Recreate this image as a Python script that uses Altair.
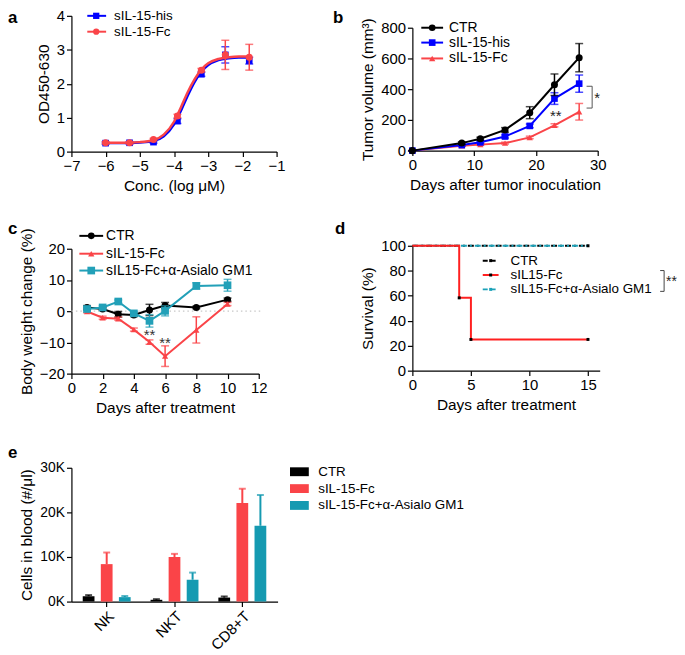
import altair as alt
import pandas as pd

FONT = "Liberation Sans"
RED = "#fa4448"
BLUE = "#0000ff"
TEAL_C = "#22a0b8"
TEAL_D = "#1ba1b8"
TEAL_E = "#159ab1"
RED_D = "#ff2020"

# ---------------- panel a ----------------
a_series = ["sIL-15-his", "sIL-15-Fc"]
a_conc = [-6.0, -5.3, -4.6, -3.9, -3.2, -2.5, -1.8]
a_his = [0.25, 0.26, 0.28, 0.90, 2.28, 2.85, 2.68]
a_his_err = [0.03, 0.03, 0.03, 0.07, 0.06, 0.24, 0.10]
a_fc = [0.26, 0.26, 0.36, 1.05, 2.40, 2.85, 2.78]
a_fc_err = [0.03, 0.03, 0.03, 0.05, 0.05, 0.43, 0.38]
a_curve_x = [-6.0, -5.5, -5.0, -4.6, -4.3, -4.0, -3.8, -3.6, -3.4, -3.2, -3.0, -2.7, -2.4, -2.1, -1.8]
a_his_curve = [0.25, 0.25, 0.27, 0.31, 0.45, 0.80, 1.20, 1.65, 2.05, 2.35, 2.55, 2.70, 2.75, 2.77, 2.77]
a_fc_curve = [0.26, 0.26, 0.28, 0.34, 0.50, 0.88, 1.30, 1.75, 2.13, 2.42, 2.60, 2.73, 2.78, 2.80, 2.80]

# ---------------- panel b ----------------
b_series = ["CTR", "sIL-15-his", "sIL-15-Fc"]
b_days = [0, 8, 11, 15, 19, 23, 27]
b_ctr = [0, 49, 77, 135, 247, 429, 605]
b_ctr_err = [0, 8, 10, 15, 39, 70, 92]
b_his = [0, 36, 54, 92, 161, 339, 436]
b_his_err = [0, 5, 6, 10, 12, 38, 56]
b_fc = [0, 32, 39, 49, 86, 165, 253]
b_fc_err = [0, 4, 5, 6, 8, 10, 54]
b_bracket_x = [28.2, 29.1]
b_bracket_y = [419, 277]

# ---------------- panel c ----------------
c_series = ["CTR", "sIL-15-Fc", "sIL15-Fc+α-Asialo GM1"]
c_days = [1, 2, 3, 4, 5, 6, 8, 10]
c_ctr = [1.2, 0.7, -1.0, -1.2, 0.4, 1.8, 1.2, 3.7]
c_ctr_err = [0.6, 0.4, 0.9, 0.5, 1.8, 1.0, 0.4, 0.5]
c_fc = [-0.1, -2.1, -2.4, -5.9, -9.9, -14.4, -6.0, 2.3]
c_fc_err = [0.4, 0.5, 0.5, 0.5, 0.7, 3.3, 4.2, 0.5]
c_teal = [0.7, 1.2, 3.1, -0.7, -3.1, 0.1, 8.1, 8.3]
c_teal_err = [0.5, 0.6, 0.5, 0.6, 2.0, 1.6, 1.0, 1.9]
c_star_x = [5, 6]
c_star_y = [-7.8, -10.3]

# ---------------- panel d ----------------
d_series = ["CTR", "sIL15-Fc", "sIL15-Fc+α-Asialo GM1"]
d_ctr_t = [0, 15]
d_ctr_s = [100, 100]
d_fc_t = [0, 4, 5, 15]
d_fc_s = [100, 58.3, 25, 25]
d_teal_t = [0, 15]
d_teal_s = [100, 100]
d_cens_t = [4, 5, 15, 15]
d_cens_s = [58.3, 25, 25, 100]

# ---------------- panel e ----------------
e_cats = ["NK", "NKT", "CD8+T"]
e_groups = ["CTR", "sIL-15-Fc", "sIL-15-Fc+α-Asialo GM1"]
e_ctr = [1200, 400, 900]
e_ctr_err = [250, 150, 250]
e_fc = [8400, 10000, 22100]
e_fc_err = [2600, 700, 3200]
e_teal = [1000, 4900, 17000]
e_teal_err = [250, 1600, 6900]


def sdf(x, y, err):
    return pd.DataFrame({"x": x, "y": y,
                         "lo": [v - e for v, e in zip(y, err)],
                         "hi": [v + e for v, e in zip(y, err)]})


def make_xy(xdom, xvals, xtitle, ydom, yvals, ytitle, yrange=None):
    xs = alt.Scale(domain=xdom, nice=False, zero=False)
    if yrange is not None:
        ys = alt.Scale(domain=ydom, nice=False, zero=False, range=yrange)
    else:
        ys = alt.Scale(domain=ydom, nice=False, zero=False)
    xa = alt.Axis(values=xvals, title=xtitle)
    ya = alt.Axis(values=yvals, title=ytitle)

    def X(f):
        return alt.X(f, type="quantitative", scale=xs, axis=xa)

    def Y(f):
        return alt.Y(f, type="quantitative", scale=ys, axis=ya)
    return X, Y


def series_layers(df, X, Y, color, shape, size, lw=2, interp="linear", cap=8, line_df=None):
    ld = line_df if line_df is not None else df
    out = [
        alt.Chart(ld).mark_line(color=color, strokeWidth=lw, interpolate=interp).encode(x=X("x"), y=Y("y")),
        alt.Chart(df).mark_rule(color=color, strokeWidth=1.5).encode(x=X("x"), y=Y("lo"), y2=alt.Y2("hi")),
        alt.Chart(df).mark_tick(color=color, orient="horizontal", size=cap, thickness=1.5).encode(x=X("x"), y=Y("hi")),
        alt.Chart(df).mark_tick(color=color, orient="horizontal", size=cap, thickness=1.5).encode(x=X("x"), y=Y("lo")),
        alt.Chart(df).mark_point(shape=shape, filled=True, size=size, color=color, opacity=1).encode(x=X("x"), y=Y("y")),
    ]
    return out


def legend_rows(names, colors, shapes, sizes, x0, x1, xm, xt, ys, fs=14, dashes=None, ptcolors=None, lw=2):
    out = []
    for i, name in enumerate(names):
        d = pd.DataFrame({"name": [name]})
        rk = dict(color=colors[i], strokeWidth=lw)
        if dashes is not None and dashes[i] is not None:
            rk["strokeDash"] = dashes[i]
        out.append(alt.Chart(d).mark_rule(**rk).encode(
            x=alt.value(x0), x2=alt.value(x1), y=alt.value(ys[i])))
        pc = ptcolors[i] if ptcolors is not None else colors[i]
        out.append(alt.Chart(d).mark_point(shape=shapes[i], filled=True, size=sizes[i], color=pc, opacity=1).encode(
            x=alt.value(xm), y=alt.value(ys[i])))
        out.append(alt.Chart(d).mark_text(align="left", baseline="middle", font=FONT, fontSize=fs, color="black").encode(
            x=alt.value(xt), y=alt.value(ys[i]), text="name:N"))
    return out


def letter(ch, x, y):
    return alt.Chart(pd.DataFrame({"t": [ch]})).mark_text(
        align="left", baseline="alphabetic", font=FONT, fontSize=17, fontWeight="bold", color="black"
    ).encode(x=alt.value(x), y=alt.value(y), text="t:N")


# ---------- panel a ----------
Xa, Ya = make_xy([-7, -1], [-7, -6, -5, -4, -3, -2, -1], "Conc. (log μM)", [0, 4], [0, 1, 2, 3, 4], "OD450-630")
a_his_df = sdf(a_conc, a_his, a_his_err)
a_fc_df = sdf(a_conc, a_fc, a_fc_err)
a_his_line = pd.DataFrame({"x": a_curve_x, "y": a_his_curve})
a_fc_line = pd.DataFrame({"x": a_curve_x, "y": a_fc_curve})
pa_layers = (series_layers(a_his_df, Xa, Ya, BLUE, "square", 45, lw=2.5, interp="monotone", line_df=a_his_line)
             + series_layers(a_fc_df, Xa, Ya, RED, "circle", 50, lw=2.5, interp="monotone", line_df=a_fc_line)
             + legend_rows(a_series, [BLUE, RED], ["square", "circle"], [40, 40], 16, 35, 25, 43, [0, 16], fs=13.5)
             + [letter("a", -64, 7)])
pa = alt.layer(*pa_layers).properties(width=207, height=137)

# ---------- panel b ----------
Xb, Yb = make_xy([0, 30], [0, 10, 20, 30], "Days after tumor inoculation", [0, 800], [0, 200, 400, 600, 800],
                 "Tumor volume (mm³)", yrange=[136, 12])
b_ctr_df = sdf(b_days, b_ctr, b_ctr_err)
b_his_df = sdf(b_days, b_his, b_his_err)
b_fc_df = sdf(b_days, b_fc, b_fc_err)
b_br_v = pd.DataFrame({"x": [b_bracket_x[1]], "y": [b_bracket_y[0]], "y2": [b_bracket_y[1]]})
b_br_h = pd.DataFrame({"x": [b_bracket_x[0], b_bracket_x[0]], "x2": [b_bracket_x[1], b_bracket_x[1]], "y": b_bracket_y})
b_stars = pd.DataFrame({"x": [23.2, 29.9], "y": [225, 342], "t": ["**", "*"]})
pb_layers = (series_layers(b_fc_df, Xb, Yb, RED, "triangle-up", 40)
             + series_layers(b_his_df, Xb, Yb, BLUE, "square", 45)
             + series_layers(b_ctr_df, Xb, Yb, "black", "circle", 50)
             + [alt.Chart(b_br_v).mark_rule(color="#555555", strokeWidth=1).encode(x=Xb("x"), y=Yb("y"), y2="y2"),
                alt.Chart(b_br_h).mark_rule(color="#555555", strokeWidth=1).encode(x=Xb("x"), x2="x2", y=Yb("y")),
                alt.Chart(b_stars).mark_text(font=FONT, fontSize=15, color="#222222", baseline="middle").encode(
                    x=Xb("x"), y=Yb("y"), text="t:N")]
             + legend_rows(b_series, ["black", BLUE, RED], ["circle", "square", "triangle-up"], [45, 45, 40],
                           9, 31, 20, 37, [12, 27, 43], fs=14)
             + [letter("b", -80, 7)])
pb = alt.layer(*pb_layers).properties(width=187, height=136)

# ---------- panel c ----------
Xc, Yc = make_xy([0, 12], [0, 2, 4, 6, 8, 10, 12], "Days after treatment", [-20, 20], [-20, -10, 0, 10, 20],
                 "Body weight change (%)", yrange=[129, 3])
c_ctr_df = sdf(c_days, c_ctr, c_ctr_err)
c_fc_df = sdf(c_days, c_fc, c_fc_err)
c_teal_df = sdf(c_days, c_teal, c_teal_err)
c_zero = pd.DataFrame({"x": [0], "x2": [12.1], "y": [0]})
c_st = pd.DataFrame({"x": c_star_x, "y": c_star_y, "t": ["**", "**"]})
pc_layers = ([alt.Chart(c_zero).mark_rule(color="#c8c8c8", strokeDash=[1.5, 3], strokeWidth=1.2).encode(
                x=Xc("x"), x2="x2", y=Yc("y"))]
             + series_layers(c_ctr_df, Xc, Yc, "black", "circle", 50)
             + series_layers(c_fc_df, Xc, Yc, RED, "triangle-up", 40)
             + series_layers(c_teal_df, Xc, Yc, TEAL_C, "square", 60)
             + [alt.Chart(c_st).mark_text(font=FONT, fontSize=15, color="#333333", baseline="middle").encode(
                 x=Xc("x"), y=Yc("y"), text="t:N")]
             + legend_rows(c_series, ["black", RED, TEAL_C], ["circle", "triangle-up", "square"], [45, 40, 60],
                           8, 32, 20, 35, [-10, 8, 25], fs=14)
             + [letter("c", -64, -12)])
pc = alt.layer(*pc_layers).properties(width=189, height=129)

# ---------- panel d ----------
Xd, Yd = make_xy([0, 16], [0, 5, 10, 15], "Days after treatment", [0, 100], [0, 20, 40, 60, 80, 100],
                 "Survival (%)")
d_ctr_df = pd.DataFrame({"x": d_ctr_t, "y": d_ctr_s})
d_fc_df = pd.DataFrame({"x": d_fc_t, "y": d_fc_s})
d_teal_df = pd.DataFrame({"x": d_teal_t, "y": d_teal_s})
d_cens = pd.DataFrame({"x": d_cens_t, "y": d_cens_s})
d_br = pd.DataFrame({"t": ["**"]})
pd_layers = [
    alt.Chart(d_ctr_df).mark_line(color="black", strokeWidth=2, strokeDash=[6, 3, 2, 3],
                                  interpolate="step-after").encode(x=Xd("x"), y=Yd("y")),
    alt.Chart(d_teal_df).mark_line(color=TEAL_D, strokeWidth=2, strokeDash=[6, 3, 2, 3], strokeDashOffset=7,
                                   interpolate="step-after").encode(x=Xd("x"), y=Yd("y")),
    alt.Chart(d_fc_df).mark_line(color=RED_D, strokeWidth=2, interpolate="step-after").encode(x=Xd("x"), y=Yd("y")),
    alt.Chart(d_cens).mark_point(shape="square", filled=True, size=9, color="black", opacity=1).encode(
        x=Xd("x"), y=Yd("y")),
    alt.Chart(d_br).mark_rule(color="#444444", strokeWidth=1).encode(x=alt.value(254), y=alt.value(25), y2=alt.value(46)),
    alt.Chart(d_br).mark_rule(color="#444444", strokeWidth=1).encode(x=alt.value(250), x2=alt.value(254), y=alt.value(25)),
    alt.Chart(d_br).mark_rule(color="#444444", strokeWidth=1).encode(x=alt.value(250), x2=alt.value(254), y=alt.value(46)),
    alt.Chart(d_br).mark_text(font=FONT, fontSize=14, align="left", baseline="middle", color="#222222").encode(
        x=alt.value(256), y=alt.value(37), text="t:N"),
] + legend_rows(d_series, ["black", RED_D, TEAL_D], ["square", "square", "square"], [9, 9, 9],
                71, 87, 79, 99, [15, 29.5, 44], fs=13.5, dashes=[[5, 3], None, [5, 3]],
                ptcolors=["black", "black", TEAL_D]) + [letter("d", -78, -12)]
pdd = alt.layer(*pd_layers).properties(width=189, height=126)

# ---------- panel e ----------
e_rows = []
for g, vals, errs in zip(e_groups, [e_ctr, e_fc, e_teal], [e_ctr_err, e_fc_err, e_teal_err]):
    for c, v, er in zip(e_cats, vals, errs):
        e_rows.append({"cat": c, "grp": g, "val": v, "hi": v + er})
e_df = pd.DataFrame(e_rows)
e_colors = ["black", RED, TEAL_E]
ex_scale = alt.Scale(paddingInner=0.2, paddingOuter=0.12)
ex_axis = alt.Axis(title=None, labelAngle=315, labelAlign="right", labelBaseline="top", labelFontSize=15)
eo_scale = alt.Scale(paddingInner=0.35, paddingOuter=0.175)
ey_scale = alt.Scale(domain=[0, 30000], nice=False)
ey_axis = alt.Axis(values=[0, 10000, 20000, 30000], title="Cells in blood (#/μl)", labelFontSize=14,
                   labelExpr="format(datum.value / 1000, 'd') + 'K'")
ecol = alt.Color("grp:N", scale=alt.Scale(domain=e_groups, range=e_colors), legend=None)


def Xe():
    return alt.X("cat:N", sort=e_cats, scale=ex_scale, axis=ex_axis)


def Oe():
    return alt.XOffset("grp:N", sort=e_groups, scale=eo_scale)


def Ye(f):
    return alt.Y(f, type="quantitative", scale=ey_scale, axis=ey_axis)


e_leg = []
for i, g in enumerate(e_groups):
    d = pd.DataFrame({"name": [g]})
    yy = [4, 21, 38][i]
    e_leg.append(alt.Chart(d).mark_point(shape="M-1,-0.47H1V0.47H-1Z", filled=True, size=361, color=e_colors[i],
                                         opacity=1).encode(x=alt.value(230), y=alt.value(yy)))
    e_leg.append(alt.Chart(d).mark_text(align="left", baseline="middle", font=FONT, fontSize=13.5, color="black").encode(
        x=alt.value(249), y=alt.value(yy), text="name:N"))

pe_layers = [
    alt.Chart(e_df).mark_rule(strokeWidth=2).encode(x=Xe(), xOffset=Oe(), y=Ye("val"), y2="hi", color=ecol),
    alt.Chart(e_df).mark_tick(orient="horizontal", size=7, thickness=2).encode(x=Xe(), xOffset=Oe(), y=Ye("hi"), color=ecol),
    alt.Chart(e_df).mark_bar().encode(x=Xe(), xOffset=Oe(), y=Ye("val"), color=ecol),
] + e_leg + [letter("e", -64, -10)]
pe = alt.layer(*pe_layers).properties(width=208, height=135)

chart = alt.concat(
    pa, pb, pc, pdd, pe, columns=2, spacing={"row": 95, "column": 136}, bounds="flush", align="each",
    padding={"top": -2, "left": 0, "right": 0, "bottom": 0},
).configure_view(stroke=None).configure_axis(
    labelFont=FONT, titleFont=FONT, labelFontSize=15, titleFontSize=15.5, titleFontWeight="normal",
    domainColor="black", tickColor="black", labelColor="black", titleColor="black", grid=False,
    tickSize=5, domainWidth=1.2, tickWidth=1.2, labelPadding=2, titlePadding=5, labelFlush=False,
)

chart.save("out.html", embed_options={"renderer": "svg", "actions": False})
